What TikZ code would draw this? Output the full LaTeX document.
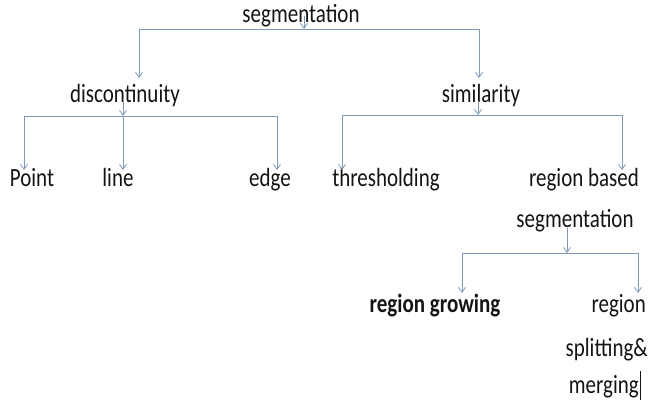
\documentclass[tikz,border=0pt]{standalone}
\usepackage{fontspec}
\setmainfont{Carlito}
\usetikzlibrary{arrows.meta}
\definecolor{conn}{RGB}{125,155,185}
\definecolor{txt}{RGB}{20,20,20}
\newcommand{\tallt}[1]{\scalebox{1}[1.25]{#1}}
\tikzset{
  lbl/.style={inner sep=0pt, anchor=base, text=txt, font=\fontsize{21}{25}\selectfont},
  lblr/.style={lbl, anchor=base east},
  ln/.style={draw=conn, line width=0.9pt},
  arr/.style={ln, -{Straight Barb[length=5pt,width=7pt,line width=0.8pt]}}
}
\begin{document}
\begin{tikzpicture}[x=1pt,y=-1pt]
\useasboundingbox (0,0) rectangle (648,402);
% nodes
\node[lbl] (seg) at (301,22) {\tallt{segmentation}};
\node[lbl] (disc) at (125,102) {\tallt{discontinuity}};
\node[lbl] (sim) at (481,102) {\tallt{similarity}};
\node[lbl] (pt) at (32,186) {\tallt{Point}};
\node[lbl] (line) at (118,186) {\tallt{line}};
\node[lbl] (edge) at (270,186) {\tallt{edge}};
\node[lbl] (thr) at (386,186) {\tallt{thresholding}};
\node[lbl] (rb) at (584,186) {\tallt{region based}};
\node[lbl] (rbs) at (575,227) {\tallt{segmentation}};
\node[lbl, font=\fontsize{21}{25}\selectfont\bfseries] (rg) at (435,312) {\tallt{region growing}};
\node[lblr] (rs1) at (646,312) {\tallt{region}};
\node[lblr] (rs2) at (648,356) {\tallt{splitting\&}};
\node[lblr] (rs3) at (639,393) {\tallt{merging}};
% coordinates
\coordinate (a0) at (304,16);
\coordinate (a1) at (304,29);
\coordinate (aL) at (139,29);
\coordinate (aR) at (479,29);
\coordinate (aLt) at (139,78);
\coordinate (aRt) at (479,78);
\coordinate (b0) at (123,101);
\coordinate (b1) at (123,116);
\coordinate (bL) at (24,116);
\coordinate (bR) at (277,116);
\coordinate (bLt) at (24,170);
\coordinate (bMt) at (123,170);
\coordinate (bRt) at (277,170);
\coordinate (c0) at (478,101);
\coordinate (c1) at (478,115);
\coordinate (cL) at (342,115);
\coordinate (cR) at (622,115);
\coordinate (cLt) at (342,170);
\coordinate (cRt) at (622,170);
\coordinate (d0) at (567,228);
\coordinate (d1) at (567,253);
\coordinate (dL) at (462,253);
\coordinate (dR) at (638,253);
\coordinate (dLt) at (462,293);
\coordinate (dRt) at (638,293);
% connectors
\draw[arr] (a0) -- (a1);
\draw[ln] (aL) -- (aR);
\draw[arr] (aL) -- (aLt);
\draw[arr] (aR) -- (aRt);
\draw[arr] (b0) -- (b1);
\draw[ln] (bL) -- (bR);
\draw[arr] (bL) -- (bLt);
\draw[arr] (b1) -- (bMt);
\draw[arr] (bR) -- (bRt);
\draw[arr] (c0) -- (c1);
\draw[ln] (cL) -- (cR);
\draw[arr] (cL) -- (cLt);
\draw[arr] (cR) -- (cRt);
\draw[arr] (d0) -- (d1);
\draw[ln] (dL) -- (dR);
\draw[arr] (dL) -- (dLt);
\draw[arr] (dR) -- (dRt);
% text cursor
\coordinate (cur0) at ([xshift=1pt]rs3.east |- 0,371);
\coordinate (cur1) at ([xshift=1pt]rs3.east |- 0,400);
\draw[txt, line width=0.9pt] (cur0) -- (cur1);
\end{tikzpicture}
\end{document}
